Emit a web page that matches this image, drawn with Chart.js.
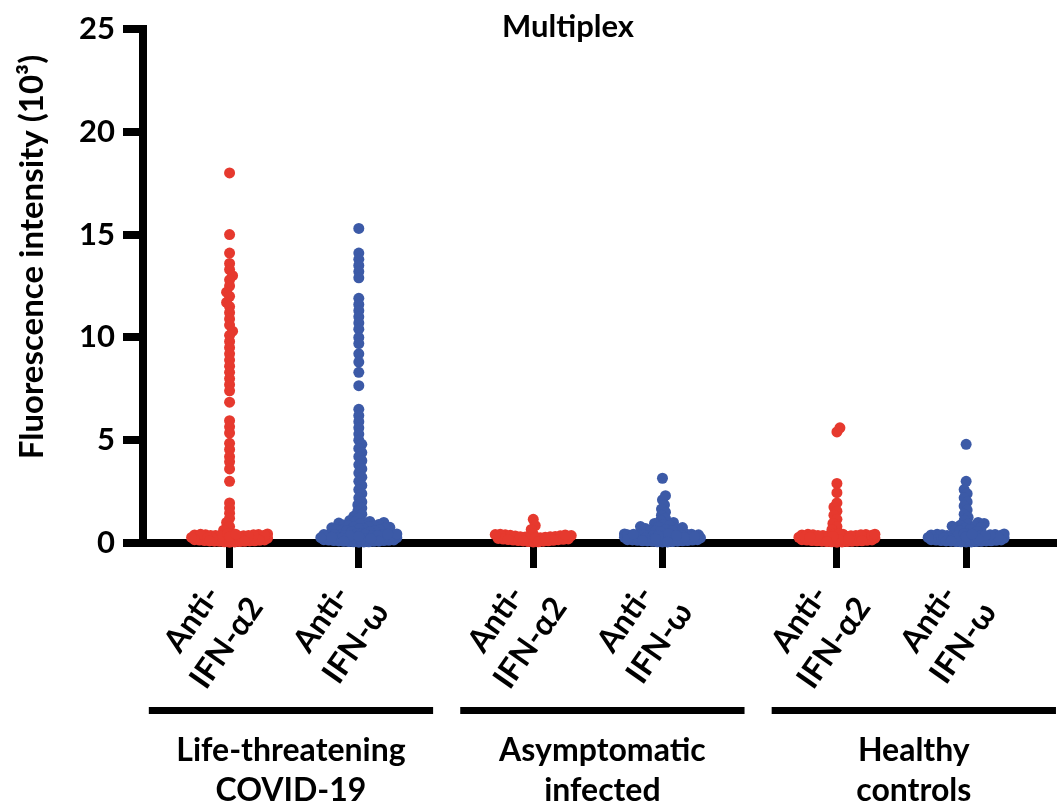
<!DOCTYPE html>
<html><head><meta charset="utf-8">
<script src="https://cdn.jsdelivr.net/npm/chart.js@4/dist/chart.umd.min.js"></script>
<style>html,body{margin:0;padding:0;background:#fff}#wrap{width:1059px;height:809px;position:relative}</style>
</head><body><div id="wrap"><canvas id="c" width="1059" height="809"></canvas></div>
<script>
// ---------------- data ----------------
const chartTitle = 'Multiplex';
const yAxisTitle = 'Fluorescence intensity (10³)';
const groupLabels = [['Life-threatening','COVID-19'],['Asymptomatic','infected'],['Healthy','controls']];
const antibodyLabels = [['Anti-','IFN-α2'],['Anti-','IFN-ω']];
const yTickValues = [0,5,10,15,20,25];

const lifeAlpha2 = [18.0,15.0,14.1,13.6,13.3,13.0,12.8,12.5,12.2,12.0,11.7,11.5,11.2,10.9,10.6,10.3,10.1,9.8,9.5,9.2,8.9,8.6,8.3,8.0,7.7,7.4,6.85,5.95,5.65,5.35,4.85,4.55,4.2,3.95,3.6,3.0,1.95,1.7,1.45,1.2,1.0,0.8,0.62,
  0.12,0.31,0.22,0.41,0.08,0.36,0.27,0.17,0.44,0.05,0.33,0.19,0.39,0.1,0.28,0.24,0.43,0.14,0.35,0.06,0.3,0.2,0.4,0.15,0.26,0.37,0.09,0.32,0.21,0.42,
  0.11,0.29,0.18,0.38,0.07,0.34,0.23,0.45,0.13,0.4,0.04,0.25,0.16,0.36,0.1,0.31,0.2,0.43,0.08,0.27];
const lifeOmega = [15.3,14.1,13.8,13.5,13.2,12.9,11.9,11.6,11.3,11.0,10.7,10.4,10.0,9.7,9.2,8.8,8.3,7.65,6.5,6.2,5.9,5.6,5.3,5.0,4.8,4.6,4.4,4.2,4.0,3.8,3.6,3.4,3.2,3.0,2.8,2.6,2.4,2.2,2.0,1.85,1.7,1.55,1.4,1.3,1.2,1.1,1.05,1.02,1.0,0.97,0.95,0.92,0.9,0.88,0.85,0.82,0.8,0.78,0.76,0.74,0.72,0.7,0.68,0.66,0.64,0.62,0.6,0.58,0.55,0.53,
  0.1,0.33,0.24,0.42,0.07,0.38,0.26,0.16,0.45,0.04,0.31,0.2,0.4,0.12,0.29,0.22,0.44,0.13,0.36,0.06,0.28,0.18,0.41,0.15,0.25,0.35,0.08,0.34,0.23,0.43,
  0.12,0.3,0.19,0.39,0.06,0.35,0.22,0.44,0.14,0.41,0.05,0.26,0.17,0.37,0.09,0.32,0.21,0.42,0.08,0.28];
const asymAlpha2 = [1.15,0.85,0.66,
  0.14,0.32,0.2,0.4,0.07,0.35,0.25,0.16,0.43,0.05,0.3,0.18,0.38,0.11,0.27,0.22,0.42,0.13,0.34,0.09,0.29,0.19,
  0.12,0.36,0.24,0.41,0.06,0.31,0.17,0.39,0.1,0.28];
const asymOmega = [3.15,2.3,2.1,1.85,1.65,1.5,1.35,1.2,1.1,1.0,0.95,0.9,0.85,0.8,0.78,0.75,0.7,0.68,0.66,0.62,0.6,0.58,0.55,
  0.11,0.34,0.23,0.41,0.06,0.37,0.27,0.15,0.44,0.05,0.32,0.19,0.39,0.12,0.28,0.21,0.43,0.14,0.36,0.08,0.3,0.2,0.4,0.16,0.25,0.35,0.09,0.33,0.22,0.42,
  0.13,0.29,0.18,0.38,0.07,0.34,0.24,0.45,0.1,0.4,0.05,0.27,0.16,0.36,0.11,0.31,0.2,0.43];
const healthyAlpha2 = [5.6,5.4,2.9,2.45,1.95,1.75,1.55,1.35,1.15,0.95,0.8,0.65,
  0.13,0.32,0.21,0.42,0.07,0.37,0.26,0.16,0.44,0.05,0.31,0.18,0.4,0.11,0.29,0.23,0.43,0.14,0.34,0.06,0.28,0.2,0.39,0.15,0.27,0.36,0.09,0.33,0.22,0.41,
  0.12,0.3,0.19,0.38,0.08,0.35,0.24,0.45,0.1,0.4,0.04,0.26,0.17,0.37,0.11,0.32,0.2,0.43,0.07,0.28];
const healthyOmega = [4.8,3.0,2.6,2.4,2.2,2.0,1.8,1.6,1.4,1.25,1.1,1.0,0.95,0.92,0.86,0.82,0.8,0.75,0.72,0.66,0.62,0.6,0.56,
  0.12,0.33,0.22,0.41,0.06,0.36,0.27,0.17,0.43,0.05,0.3,0.19,0.38,0.1,0.28,0.24,0.44,0.13,0.35,0.07,0.31,0.2,0.4,0.15,0.26,0.37,0.08,0.32,0.21,0.42,
  0.11,0.29,0.18,0.39,0.07,0.34,0.23,0.45,0.14,0.4,0.05,0.25,0.16,0.36,0.1,0.31,0.2,0.43,0.09,0.27];

const seriesValues = [lifeAlpha2, lifeOmega, asymAlpha2, asymOmega, healthyAlpha2, healthyOmega];

// ---------------- layout / style ----------------
const RED = '#E6392E', BLUE = '#3C5AA7';
const FONT = "Lato, 'DejaVu Sans', sans-serif";
const firstCol = 0.67, groupStep = 2.35, xMax = 7.046;
const colPos = seriesValues.map((_, i) => firstCol + Math.floor(i / 2) * groupStep + (i % 2));
const groupCenterPos = groupLabels.map((_, g) => 1.145 + g * 2.41);
const colColors = seriesValues.map((_, i) => i % 2 === 0 ? RED : BLUE);

function swarm(pys, D, cap) {
  const placed = [];
  const out = new Array(pys.length);
  const order = pys.map((_, i) => i).sort((a, b) => pys[b] - pys[a]);
  order.forEach((i, k) => {
    const y = pys[i];
    let best = 0, bestScore = -1, done = false;
    for (let s = 0; s <= cap && !done; s += 1) {
      const signs = s === 0 ? [1] : (k % 2 ? [1, -1] : [-1, 1]);
      for (const sg of signs) {
        const dx = s * sg;
        let md = Infinity;
        for (const p of placed) {
          const d = Math.hypot(p[0] - dx, p[1] - y);
          if (d < md) md = d;
        }
        if (md >= D) { best = dx; done = true; break; }
        if (md > bestScore + 0.01) { bestScore = md; best = dx; }
      }
    }
    placed.push([best, y]);
    out[i] = best;
  });
  return out;
}

const decor = {
  id: 'decor',
  afterDraw(chart) {
    const ctx = chart.ctx, xs = chart.scales.x, ys = chart.scales.y;
    const base = ys.getPixelForValue(0);
    ctx.save();
    ctx.fillStyle = '#000';
    ctx.font = 'bold 32px ' + FONT;
    ctx.textAlign = 'center';
    ctx.textBaseline = 'middle';
    colPos.forEach((p, i) => {
      const lines = antibodyLabels[i % 2];
      const px = xs.getPixelForValue(p);
      ctx.save();
      ctx.translate(px - 20, base + 88);
      ctx.rotate(-55 * Math.PI / 180);
      ctx.fillText(lines[0], 0, -21);
      ctx.fillText(lines[1], 0, 21);
      ctx.restore();
    });
    const perUnit = xs.getPixelForValue(1) - xs.getPixelForValue(0);
    groupLabels.forEach((lab, g) => {
      const cx = xs.getPixelForValue(groupCenterPos[g]);
      ctx.fillRect(cx - 1.1 * perUnit, base + 164, 2.2 * perUnit, 7);
      ctx.fillText(lab[0], cx, base + 208);
      ctx.fillText(lab[1], cx, base + 248);
    });
    ctx.save();
    ctx.translate(32, 257);
    ctx.rotate(-Math.PI / 2);
    ctx.font = 'bold 33px ' + FONT;
    ctx.fillText(yAxisTitle, 0, 0);
    ctx.restore();
    ctx.font = 'bold 31px ' + FONT;
    ctx.fillText(chartTitle, 568, 27);
    ctx.restore();
  }
};

function build() {
  const chart = new Chart(document.getElementById('c'), {
    type: 'scatter',
    data: {
      datasets: seriesValues.map((vals, i) => ({
        data: vals.map(v => ({ x: colPos[i], y: v })),
        backgroundColor: colColors[i],
        borderWidth: 0,
        pointRadius: 5.5,
        pointHoverRadius: 5.5,
        clip: false
      }))
    },
    options: {
      responsive: false,
      animation: false,
      layout: { padding: { top: 29, left: 0, right: 0, bottom: 0 } },
      plugins: { legend: { display: false }, tooltip: { enabled: false }, title: { display: false } },
      scales: {
        x: {
          type: 'linear', min: 0, max: xMax,
          afterBuildTicks: s => { s.ticks = colPos.map(v => ({ value: v })); },
          afterFit: s => { s.height = 266; },
          ticks: { display: false },
          grid: { drawOnChartArea: false, drawTicks: true, tickLength: 25, lineWidth: 7, color: '#000' },
          border: { display: true, width: 8, color: '#000' }
        },
        y: {
          type: 'linear', min: 0, max: 25,
          afterBuildTicks: s => { s.ticks = yTickValues.map(v => ({ value: v })); },
          afterFit: s => { s.width = 143; },
          ticks: { color: '#000', padding: 8, font: { family: FONT, weight: 'bold', size: 31 } },
          grid: { drawOnChartArea: false, drawTicks: true, tickLength: 20, lineWidth: 8, color: '#000' },
          border: { display: true, width: 8, color: '#000' }
        }
      }
    },
    plugins: [decor]
  });
  const xs = chart.scales.x, ysc = chart.scales.y;
  const perUnit = xs.getPixelForValue(1) - xs.getPixelForValue(0);
  chart.data.datasets.forEach((ds, i) => {
    const pys = seriesValues[i].map(v => ysc.getPixelForValue(v));
    const offs = swarm(pys, 5, 38);
    ds.data = seriesValues[i].map((v, k) => ({ x: colPos[i] + offs[k] / perUnit, y: v }));
  });
  chart.update('none');
}
if (document.fonts && document.fonts.load) {
  Promise.all([document.fonts.load('bold 32px Lato'), document.fonts.load('bold 30px Lato')]).then(build, build);
} else build();
</script></body></html>
